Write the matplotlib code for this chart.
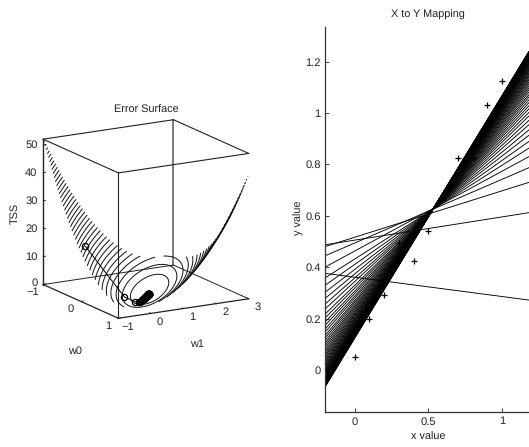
#!/usr/bin/env python3
# Error surface of a linear fit and the lines visited during training
import matplotlib
matplotlib.use("Agg")
import matplotlib.pyplot as plt
import numpy as np
from mpl_toolkits.mplot3d import proj3d

plt.rcParams['font.family'] = ['Liberation Sans', 'DejaVu Sans']
plt.rcParams['text.hinting'] = 'no_hinting'

# Training points
x_points = [0, 0.1, 0.2, 0.3, 0.4, 0.5, 0.6, 0.7, 0.8, 0.9, 1.0]
y_points = [0.049, 0.197, 0.292, 0.493, 0.425, 0.541, 0.68, 0.826, 0.826, 1.03, 1.125]

# y of each training line at the left and right edge of the picture
x_left = -0.2
x_right = 1.18
y_at_left = [-0.197, 0.376, 0.487, 0.480, 0.444, 0.400, 0.358, 0.329, 0.302, 0.278,
             0.256, 0.237, 0.217, 0.202, 0.186, 0.173, 0.159, 0.147, 0.134, 0.124,
             0.113, 0.103, 0.094, 0.085, 0.076, 0.068, 0.060, 0.054, 0.046, 0.040,
             0.033, 0.028, 0.022, 0.016, 0.011, 0.006, 0.002, -0.003, -0.007, -0.010,
             -0.015, -0.018, -0.022, -0.025, -0.027, -0.031, -0.033, -0.036, -0.039,
             -0.041, -0.043, -0.045, -0.047, -0.049, -0.051, -0.052, -0.054, -0.057,
             -0.058, -0.059, -0.060, -0.061, -0.062, -0.063, -0.065, -0.067]
y_at_right = [-0.907, 0.272, 0.612, 0.730, 0.787, 0.830, 0.863, 0.889, 0.913, 0.934,
              0.954, 0.971, 0.988, 1.002, 1.016, 1.028, 1.040, 1.051, 1.062, 1.071,
              1.081, 1.090, 1.098, 1.106, 1.114, 1.121, 1.128, 1.134, 1.141, 1.146,
              1.152, 1.157, 1.162, 1.167, 1.172, 1.176, 1.180, 1.184, 1.188, 1.191,
              1.195, 1.198, 1.201, 1.204, 1.206, 1.209, 1.211, 1.214, 1.216,
              1.218, 1.220, 1.222, 1.224, 1.225, 1.227, 1.228, 1.230, 1.232,
              1.233, 1.234, 1.235, 1.236, 1.237, 1.238, 1.239, 1.239]

w0_ticks = [-1, 0, 1]
w1_ticks = [-1, 0, 1, 2, 3]
tss_ticks = [0, 10, 20, 30, 40, 50]
tss_top = 52
contour_step = 1.25

W = 529
H = 447
text_color = '#222222'
fig = plt.figure(figsize=(W / 100, H / 100), dpi=100)

# Slope and intercept of every line, these are also the path on the surface
xs = np.array(x_points)
ys = np.array(y_points)
y_l = np.array(y_at_left)
y_r = np.array(y_at_right)
w1_path = (y_r - y_l) / (x_right - x_left)
w0_path = y_l - w1_path * x_left


def tss(w0, w1):
    return sum((y - w0 - w1 * x) ** 2 for x, y in zip(xs, ys))


# ---- left panel ----
ax3 = fig.add_axes([16 / W, 1 - 348.9 / H, 253 / W, 253 / H], projection='3d')
ax3.set_proj_type('ortho')
ax3.view_init(elev=15, azim=-30)
ax3.set_box_aspect((1, 1, 1))
ax3.set_xlim(-1, 1)
ax3.set_ylim(-1, 3)
ax3.set_zlim(0, tss_top)
ax3.set_axis_off()
ax3.computed_zorder = False

# box edges, no vertical at the right corner
box_color = '#222222'
ax3.plot([-1, -1], [3, 3], [0, tss_top], color='#666666', lw=1.2, clip_on=False)
ax3.plot([-1, 1], [-1, -1], [0, 0], color=box_color, lw=0.9, clip_on=False)
ax3.plot([1, 1], [-1, 3], [0, 0], color=box_color, lw=0.9, clip_on=False)
ax3.plot([-1, -1], [-1, 3], [0, 0], color=box_color, lw=0.7, clip_on=False)
ax3.plot([-1, 1], [3, 3], [0, 0], color=box_color, lw=0.7, clip_on=False)
ax3.plot([-1, 1], [-1, -1], [tss_top, tss_top], color=box_color, lw=0.8, clip_on=False)
ax3.plot([1, 1], [-1, 3], [tss_top, tss_top], color=box_color, lw=0.8, clip_on=False)
ax3.plot([-1, -1], [-1, 3], [tss_top, tss_top], color=box_color, lw=0.8, clip_on=False)
ax3.plot([-1, 1], [3, 3], [tss_top, tss_top], color=box_color, lw=0.8, clip_on=False)
ax3.plot([-1, -1], [-1, -1], [0, tss_top], color=box_color, lw=1.0, clip_on=False)
ax3.plot([1, 1], [-1, -1], [0, tss_top], color=box_color, lw=0.8, clip_on=False)

g0, g1 = np.meshgrid(np.linspace(-1, 1, 201), np.linspace(-1, 3, 201))
ax3.contour(g0, g1, tss(g0, g1), levels=np.arange(contour_step, tss_top, contour_step),
            colors='#111111', linewidths=0.7)

ax3.plot(w0_path, w1_path, tss(w0_path, w1_path), '-o', color='black', lw=0.7, ms=4.5,
         mfc='none', mew=0.9, clip_on=False)


def label3d(x, y, z, s, dx, dy, ha='center'):
    px, py, _ = proj3d.proj_transform(x, y, z, ax3.get_proj())
    ax3.annotate(s, (px, py), xytext=(dx, dy), textcoords='offset points', ha=ha, va='center',
                 fontsize=8, color=text_color, annotation_clip=False)


for t in w0_ticks:
    ax3.plot([t, t], [-1, -0.92], [0, 0], color=box_color, lw=0.6, clip_on=False)
    label3d(t, -1, 0, str(t).replace('-', '\u2212'), -7.2, -5.4)
for t in w1_ticks:
    ax3.plot([1, 0.96], [t, t], [0, 0], color=box_color, lw=0.6, clip_on=False)
    label3d(1, t, 0, str(t).replace('-', '\u2212'), 6.5, -6.3)
for t in tss_ticks:
    ax3.plot([-1, -1], [-1, -0.92], [t, t], color=box_color, lw=0.6, clip_on=False)
    label3d(-1, -1, t, str(t), -4, 1 if t == 0 else 0, ha='right')

fig.text(146 / W, 1 - 110.5 / H, 'Error Surface', ha='center', va='center', fontsize=7.8, color=text_color)
fig.text(75 / W, 1 - 351 / H, 'w0', ha='center', va='center', fontsize=7.8, color=text_color)
fig.text(197 / W, 1 - 344 / H, 'w1', ha='center', va='center', fontsize=7.8, color=text_color)
fig.text(15 / W, 1 - 213 / H, 'TSS', ha='center', va='center', rotation=90, fontsize=7.8, color=text_color)

# ---- right panel, runs a little past the edge of the picture ----
ax = fig.add_axes([325 / W, 1 - 412.3 / H, 206.8 / W, 385.6 / H])
ax.set_xlim(-0.2, 1.2)
ax.set_ylim(-0.165, 1.336)
ax.plot(xs, ys, '+', color='black', ms=5, mew=0.9)
for left, right in zip(y_at_left, y_at_right):
    ax.plot([x_left, x_right], [left, right], color='black', lw=0.65)

ax.spines['top'].set_visible(False)
ax.spines['right'].set_visible(False)
ax.spines['left'].set_linewidth(0.9)
ax.spines['bottom'].set_linewidth(0.9)
ax.spines['left'].set_color('#333333')
ax.spines['bottom'].set_color('#333333')
ax.set_xticks([0, 0.5, 1])
ax.set_xticklabels(['0', '0.5', '1'])
ax.set_yticks([0, 0.2, 0.4, 0.6, 0.8, 1, 1.2])
ax.set_yticklabels(['0', '0.2', '0.4', '0.6', '0.8', '1', '1.2'])
ax.tick_params(direction='in', length=3, width=0.6, labelsize=8, pad=3, colors=text_color)

fig.text(428.4 / W, 1 - 14.8 / H, 'X to Y Mapping', ha='center', va='center', fontsize=7.8, color=text_color)
fig.text(428.4 / W, 1 - 437 / H, 'x value', ha='center', va='center', fontsize=7.8, color=text_color)
fig.text(299 / W, 1 - 218 / H, 'y value', ha='center', va='center', rotation=90, fontsize=7.8, color=text_color)

fig.savefig('out.png', dpi=100)
